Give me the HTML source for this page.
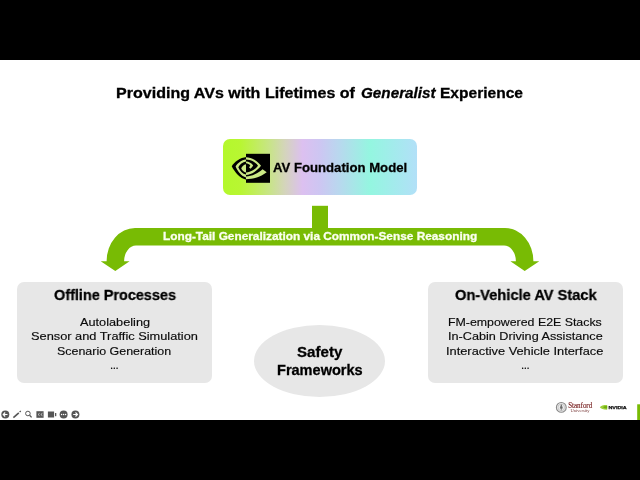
<!DOCTYPE html>
<html><head><meta charset="utf-8">
<style>
html,body{margin:0;padding:0;}
body{width:640px;height:480px;background:#000;position:relative;overflow:hidden;font-family:"Liberation Sans",sans-serif;}
.slide{position:absolute;left:0;top:60px;width:640px;height:360px;background:#fff;}
.abs{position:absolute;will-change:transform;}
.t{position:absolute;white-space:nowrap;transform-origin:0 0;will-change:transform;}
.fm{position:absolute;left:223px;top:139px;width:194px;height:56px;border-radius:7px;
 background:linear-gradient(90deg,#b4f82c 0%,#b8f632 9%,#c0ee58 16%,#c8e488 24%,#d4d4bc 32%,#dcc0f0 41%,#cdc6f2 50%,#b8d8ee 60%,#94f6e0 76%,#b2e0f8 100%);}
.box{position:absolute;top:282px;width:195px;height:101px;border-radius:7px;background:#e7e7e7;}
.ell{position:absolute;left:254px;top:324.5px;width:131px;height:72px;border-radius:50%;background:#e7e7e7;}
</style></head><body>
<div class="slide"></div>
<div class="fm"></div>
<svg class="abs" style="left:228px;top:150px" width="46" height="36" viewBox="228 150 46 36">
 <rect x="246" y="153.8" width="24" height="29" fill="#000"/>
 <path d="M246.5 157 C240 157.8 234.5 161.5 231.75 166.3 C234.5 172 240 178.8 246.5 179.8Z" fill="#000"/>
 <path d="M246 159.4 C241.5 160 237.5 162.8 235.6 166.6 C237.5 171 241.5 176.6 246 177.4 L246 174.6 C242.5 173.8 239.8 170.8 238.3 167.2 C239.8 164.3 242.5 162 246 161.4Z" fill="#cbe985"/>
 <path d="M246 164.2 C243.8 164.7 242 166.3 241.2 168.2 C242 170.3 243.8 172 246 172.6Z" fill="#cbe985"/>
 <path d="M246 157.2 C252 157.4 257.5 161 261 165.7 C257.5 170.3 252 174.6 246 175 L246 172.6 C251 172 255.5 169 258 165.7 C255.5 162.3 251 159.8 246 159.6Z" fill="#cbe985"/>
 <path d="M246 161.6 C249 161.8 251.5 163.2 253.2 165.4 C252.5 166.7 251.5 167.9 250.5 168.8 L249 167.3 C249.5 166.7 250 166 250.3 165.4 C249.2 164.2 247.8 163.5 246 163.3Z" fill="#cbe985"/>
 <path d="M246 176.4 C252 176.2 258 173.3 262.6 169.2 L266.7 172.2 C261 176.8 253 179.1 246 179.2Z" fill="#cbe985"/>
</svg>
<svg class="abs" style="left:0;top:0" width="640" height="480" viewBox="0 0 640 480">
  <rect x="312" y="205.8" width="16" height="23" fill="#78bb04"/>
  <path d="M135 228 L505 228 A28.4 33.2 0 0 1 533.4 261.2 L539.3 261.2 L524.7 271 L510.4 261.2 L515.9 261.2 A11.9 15.6 0 0 0 504 245.6 L136 245.6 A11.9 15.6 0 0 0 124.1 261.2 L129.6 261.2 L115.3 271 L100.7 261.2 L106.6 261.2 A28.4 33.2 0 0 1 135 228Z" fill="#78bb04"/>
</svg>
<div class="box" style="left:17px"></div>
<div class="box" style="left:428px"></div>
<div class="ell"></div>

<svg class="abs" style="left:0;top:404px" width="90" height="16" viewBox="0 404 90 16">
 <circle cx="5.3" cy="414.5" r="4" fill="#555"/>
 <path d="M7.5 414.5 H3.3 M5.2 412.5 L3.2 414.5 L5.2 416.5" stroke="#fff" stroke-width="1.1" fill="none"/>
 <path d="M13.4 417.6 L18.8 412.8" stroke="#555" stroke-width="1.6"/><path d="M19.6 412 L20.8 411" stroke="#555" stroke-width="1.3"/>
 <circle cx="27.9" cy="413.5" r="2.3" stroke="#555" stroke-width="1" fill="none"/>
 <path d="M29.6 415.2 L31.6 417.4" stroke="#555" stroke-width="1.3"/>
 <rect x="36.4" y="411.2" width="7.2" height="6.6" fill="#555"/>
 <path d="M39.6 413.3 L38 414.5 L39.6 415.7 M42.4 413.3 L40.8 414.5 L42.4 415.7" stroke="#ddd" stroke-width="0.8" fill="none"/>
 <rect x="47.9" y="411.5" width="6.2" height="6" fill="#555"/>
 <rect x="55" y="413" width="1.3" height="3.2" fill="#555"/>
 <circle cx="63.6" cy="414.5" r="4" fill="#555"/>
 <circle cx="61.6" cy="414.5" r="0.7" fill="#fff"/><circle cx="63.6" cy="414.5" r="0.7" fill="#fff"/><circle cx="65.6" cy="414.5" r="0.7" fill="#fff"/>
 <circle cx="75.4" cy="414.5" r="4" fill="#555"/>
 <path d="M73.2 414.5 H77.4 M75.5 412.5 L77.5 414.5 L75.5 416.5" stroke="#fff" stroke-width="1.1" fill="none"/>
</svg>
<svg class="abs" style="left:550px;top:398px" width="90" height="22" viewBox="550 398 90 22">
  <circle cx="561.3" cy="407.4" r="4.9" fill="#eee" stroke="#8a8a8a" stroke-width="1.1"/>
 <circle cx="561.3" cy="407.4" r="3.3" fill="none" stroke="#b0b0b0" stroke-width="0.6"/>
 <path d="M561.3 404.6 L560.2 408.2 H562.4Z M561.3 407 V410.4" stroke="#666" stroke-width="0.7" fill="#777"/>
<text x="568.2" y="407.6" font-family="Liberation Serif" font-size="7.2" fill="#7a2424" stroke="#7a2424" stroke-width="0.15" textLength="24" lengthAdjust="spacingAndGlyphs">Stanford</text>
 <text x="570.6" y="412.2" font-family="Liberation Serif" font-size="4" fill="#7a3a3a" textLength="19" lengthAdjust="spacingAndGlyphs">University</text>
  <path d="M599.8 407.3 C601 405.6 603 405 607.2 405 V409.7 C603 409.7 601 409 599.8 407.3Z" fill="#9ccf3a"/>
 <path d="M603 407.3 C604 406.3 605.5 406.1 607.2 406.1 V408.5 C605.5 408.5 604 408.3 603 407.3Z" fill="#6fae10"/>
 <text x="608.4" y="408.9" font-family="Liberation Sans" font-weight="bold" font-size="4.4" fill="#111" stroke="#111" stroke-width="0.25" textLength="18.3" lengthAdjust="spacingAndGlyphs">NVIDIA</text>
 <rect x="637.2" y="404.3" width="2.8" height="15.7" fill="#78bb04"/>
</svg>
<div class="t" style="left:115.68px;top:85.35px;font-size:15px;line-height:15px;font-weight:bold;color:#000;-webkit-text-stroke:0.3px #000;transform:scaleX(1.0697)">Providing AVs with Lifetimes of</div>
<div class="t" style="left:360.60px;top:85.35px;font-size:15px;line-height:15px;font-weight:bold;color:#000;-webkit-text-stroke:0.3px #000;transform:scaleX(1.0176)"><i>Generalist</i></div>
<div class="t" style="left:440.36px;top:85.35px;font-size:15px;line-height:15px;font-weight:bold;color:#000;-webkit-text-stroke:0.3px #000;transform:scaleX(1.0361)">Experience</div>
<div class="t" style="left:272.50px;top:161.42px;font-size:13px;line-height:13px;font-weight:bold;color:#000;-webkit-text-stroke:0.3px #000;transform:scaleX(1.0114)">AV Foundation Model</div>
<div class="t" style="left:163.00px;top:230.84px;font-size:11px;line-height:11px;font-weight:bold;color:#fbfff0;-webkit-text-stroke:0.3px #fbfff0;transform:scaleX(1.0760)">Long-Tail Generalization via Common-Sense Reasoning</div>
<div class="t" style="left:53.75px;top:287.10px;font-size:15px;line-height:15px;font-weight:bold;color:#000;-webkit-text-stroke:0.3px #000;transform:scaleX(0.9626)">Offline Processes</div>
<div class="t" style="left:79.80px;top:316.66px;font-size:11.5px;line-height:11.5px;font-weight:normal;color:#0a0a0a;-webkit-text-stroke:0.15px #0a0a0a;transform:scaleX(1.1063)">Autolabeling</div>
<div class="t" style="left:31.39px;top:330.56px;font-size:11.5px;line-height:11.5px;font-weight:normal;color:#0a0a0a;-webkit-text-stroke:0.15px #0a0a0a;transform:scaleX(1.1128)">Sensor and Traffic Simulation</div>
<div class="t" style="left:57.12px;top:346.06px;font-size:11.5px;line-height:11.5px;font-weight:normal;color:#0a0a0a;-webkit-text-stroke:0.15px #0a0a0a;transform:scaleX(1.0817)">Scenario Generation</div>
<div class="t" style="left:454.80px;top:287.10px;font-size:15px;line-height:15px;font-weight:bold;color:#000;-webkit-text-stroke:0.3px #000;transform:scaleX(0.9766)">On-Vehicle AV Stack</div>
<div class="t" style="left:448.43px;top:316.66px;font-size:11.5px;line-height:11.5px;font-weight:normal;color:#0a0a0a;-webkit-text-stroke:0.15px #0a0a0a;transform:scaleX(1.0739)">FM-empowered E2E Stacks</div>
<div class="t" style="left:447.70px;top:330.56px;font-size:11.5px;line-height:11.5px;font-weight:normal;color:#0a0a0a;-webkit-text-stroke:0.15px #0a0a0a;transform:scaleX(1.1000)">In-Cabin Driving Assistance</div>
<div class="t" style="left:446.39px;top:346.06px;font-size:11.5px;line-height:11.5px;font-weight:normal;color:#0a0a0a;-webkit-text-stroke:0.15px #0a0a0a;transform:scaleX(1.1136)">Interactive Vehicle Interface</div>
<div class="t" style="left:296.70px;top:345.18px;font-size:14.5px;line-height:14.5px;font-weight:bold;color:#000;-webkit-text-stroke:0.3px #000;transform:scaleX(1.0409)">Safety</div>
<div class="t" style="left:277.00px;top:362.68px;font-size:14.5px;line-height:14.5px;font-weight:bold;color:#000;-webkit-text-stroke:0.3px #000;transform:scaleX(1.0024)">Frameworks</div>
<div class="t" style="left:110.3px;top:360px;font-size:11.5px;line-height:11.5px;color:#0a0a0a;letter-spacing:-0.4px;-webkit-text-stroke:0.15px #0a0a0a">...</div>
<div class="t" style="left:521px;top:360px;font-size:11.5px;line-height:11.5px;color:#0a0a0a;letter-spacing:-0.4px;-webkit-text-stroke:0.15px #0a0a0a">...</div>
</body></html>
